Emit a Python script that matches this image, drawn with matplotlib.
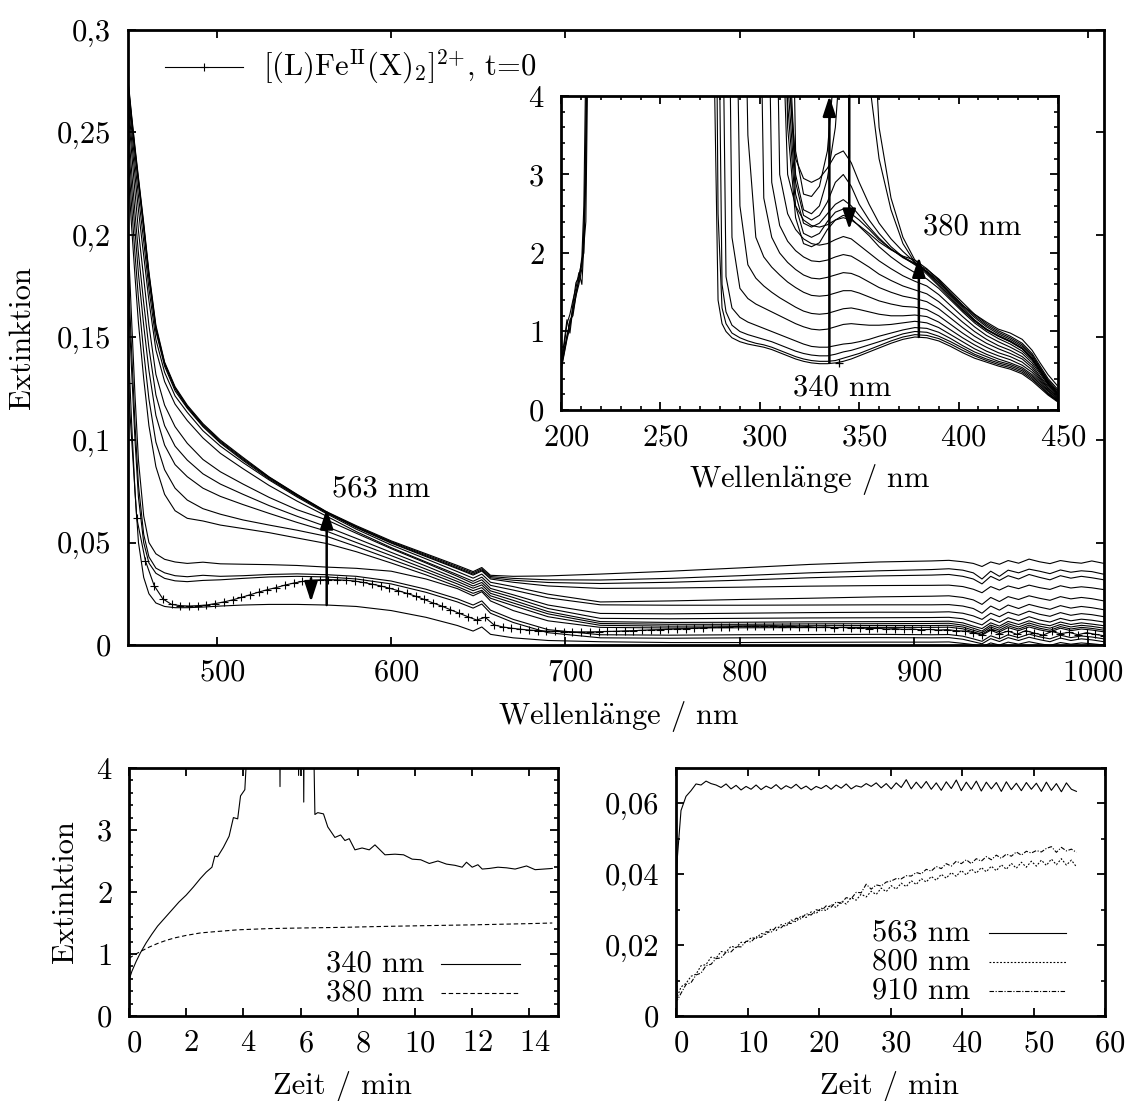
import numpy as np
import matplotlib
matplotlib.use("Agg")
import matplotlib.pyplot as plt
import matplotlib.transforms as mtransforms
from matplotlib.ticker import MultipleLocator, FuncFormatter

# ---------------------------------------------------------------- data
# visible / NIR spectra (Extinktion vs. Wellenlänge in nm)
vis_wavelength = [449, 451, 453, 455, 458, 461, 465, 470, 476, 483,
                  492, 502, 515, 530, 546, 563, 580, 600, 620, 638, 647, 652, 657,
                  670, 690, 720, 760, 800, 840, 880, 910,
                  920, 928, 934, 939, 944, 949, 954, 960, 966, 972, 978, 984, 990, 996, 1002, 1009]

vis_spectra = [
    [0.276, 0.259, 0.243, 0.228, 0.206, 0.182, 0.156, 0.138, 0.126, 0.117,
     0.108, 0.100, 0.0915, 0.082, 0.0735, 0.065, 0.0582, 0.0508, 0.0445, 0.0388, 0.0358, 0.0378, 0.034,
     0.0335, 0.0337, 0.0346, 0.036, 0.0376, 0.0393, 0.0405, 0.041,
     0.0413, 0.0406, 0.0398, 0.0383, 0.0405, 0.0394, 0.0412, 0.0399, 0.0419, 0.0406, 0.0397, 0.0412, 0.0404, 0.0399, 0.041, 0.0398],
    [0.275, 0.258, 0.242, 0.227, 0.205, 0.181, 0.155, 0.1375, 0.1255, 0.1165,
     0.1075, 0.0995, 0.091, 0.0818, 0.0733, 0.0648, 0.0578, 0.0504, 0.044, 0.0382, 0.0352, 0.0372, 0.0334,
     0.0325, 0.0318, 0.0317, 0.0325, 0.0338, 0.0352, 0.0362, 0.0368,
     0.0372, 0.0365, 0.0352, 0.0322, 0.036, 0.0335, 0.0365, 0.0352, 0.037, 0.036, 0.0348, 0.0366, 0.0355, 0.0362, 0.0358, 0.0345],
    [0.274, 0.257, 0.241, 0.226, 0.204, 0.180, 0.154, 0.137, 0.125, 0.116,
     0.107, 0.099, 0.0905, 0.0815, 0.073, 0.0646, 0.0575, 0.050, 0.0435, 0.0376, 0.0346, 0.0366, 0.0328,
     0.0316, 0.0305, 0.030, 0.0306, 0.0316, 0.0328, 0.0337, 0.0341,
     0.0344, 0.0335, 0.0322, 0.0298, 0.0335, 0.0315, 0.0338, 0.0322, 0.0344, 0.033, 0.0318, 0.0338, 0.0326, 0.0335, 0.0328, 0.0318],
    [0.273, 0.256, 0.240, 0.225, 0.203, 0.179, 0.153, 0.136, 0.124, 0.1155,
     0.1065, 0.0985, 0.090, 0.081, 0.0727, 0.0645, 0.0572, 0.0497, 0.0431, 0.0372, 0.0341, 0.0361, 0.0322,
     0.0306, 0.0288, 0.0276, 0.0278, 0.0282, 0.0287, 0.029, 0.0291,
     0.0292, 0.0285, 0.0272, 0.0255, 0.0285, 0.0268, 0.0288, 0.0275, 0.0292, 0.028, 0.0271, 0.0289, 0.0278, 0.0284, 0.0279, 0.027],
    [0.270, 0.252, 0.235, 0.219, 0.197, 0.174, 0.149, 0.133, 0.1215, 0.1135,
     0.1045, 0.097, 0.089, 0.0805, 0.0722, 0.064, 0.0565, 0.0488, 0.042, 0.0358, 0.0326, 0.0346, 0.0306,
     0.0285, 0.0248, 0.021, 0.0215, 0.0222, 0.0228, 0.0235, 0.0238,
     0.024, 0.0232, 0.022, 0.0198, 0.0232, 0.0212, 0.0236, 0.0222, 0.024, 0.0228, 0.0218, 0.0236, 0.0225, 0.0232, 0.0226, 0.0215],
    [0.266, 0.247, 0.229, 0.212, 0.190, 0.168, 0.144, 0.1285, 0.1175, 0.1095,
     0.101, 0.0935, 0.086, 0.0778, 0.0702, 0.0628, 0.0553, 0.0475, 0.0405, 0.0343, 0.0311, 0.0331, 0.0291,
     0.0268, 0.023, 0.0196, 0.0194, 0.0194, 0.0195, 0.0196, 0.0196,
     0.0197, 0.019, 0.0178, 0.0155, 0.019, 0.0170, 0.0195, 0.0178, 0.0198, 0.0185, 0.0174, 0.0192, 0.018, 0.0188, 0.0182, 0.0172],
    [0.262, 0.241, 0.221, 0.202, 0.179, 0.156, 0.132, 0.117, 0.1065, 0.0984,
     0.0905, 0.0845, 0.0785, 0.072, 0.066, 0.061, 0.0545, 0.047, 0.040, 0.0335, 0.030, 0.0318, 0.0276,
     0.0245, 0.0195, 0.0154, 0.0152, 0.0155, 0.0158, 0.016, 0.016,
     0.0162, 0.0155, 0.0142, 0.0125, 0.0155, 0.0138, 0.016, 0.0145, 0.0165, 0.015, 0.014, 0.0158, 0.0145, 0.0153, 0.0148, 0.0138],
    [0.255, 0.232, 0.211, 0.191, 0.167, 0.145, 0.122, 0.107, 0.097, 0.0902,
     0.0835, 0.0785, 0.0735, 0.068, 0.0628, 0.0577, 0.052, 0.0452, 0.0385, 0.0322, 0.0288, 0.0305, 0.0264,
     0.0232, 0.0178, 0.013, 0.0128, 0.013, 0.0132, 0.0133, 0.0134,
     0.0135, 0.0128, 0.0112, 0.0098, 0.0128, 0.011, 0.0133, 0.0118, 0.0138, 0.0122, 0.0112, 0.013, 0.0118, 0.0126, 0.0121, 0.0112],
    [0.248, 0.224, 0.202, 0.181, 0.156, 0.134, 0.112, 0.0975, 0.088, 0.0821,
     0.0765, 0.0725, 0.0685, 0.0642, 0.0598, 0.0555, 0.050, 0.0436, 0.037, 0.031, 0.0277, 0.0293, 0.0252,
     0.0218, 0.0163, 0.0114, 0.011, 0.0111, 0.0113, 0.0114, 0.0115,
     0.0116, 0.0108, 0.0092, 0.008, 0.0108, 0.0092, 0.0115, 0.010, 0.0118, 0.0103, 0.0094, 0.0112, 0.010, 0.0108, 0.0102, 0.0094],
    [0.240, 0.215, 0.191, 0.169, 0.143, 0.120, 0.099, 0.0855, 0.0765, 0.0707,
     0.0665, 0.0638, 0.061, 0.0585, 0.056, 0.053, 0.048, 0.0418, 0.0357, 0.0298, 0.0265, 0.028, 0.024,
     0.0205, 0.0152, 0.0105, 0.0101, 0.0101, 0.0103, 0.0104, 0.0105,
     0.0106, 0.0097, 0.0082, 0.0068, 0.0097, 0.0082, 0.0104, 0.0088, 0.0107, 0.0092, 0.0082, 0.010, 0.0088, 0.0096, 0.0091, 0.0082],
    [0.232, 0.205, 0.180, 0.157, 0.130, 0.107, 0.087, 0.0735, 0.0655, 0.0618,
     0.0605, 0.0585, 0.0568, 0.0548, 0.0522, 0.0495, 0.0455, 0.040, 0.0342, 0.0285, 0.0252, 0.0267, 0.0228,
     0.0192, 0.0138, 0.0096, 0.0092, 0.0093, 0.0094, 0.0095, 0.0095,
     0.0096, 0.0088, 0.0072, 0.006, 0.0088, 0.0072, 0.0094, 0.0078, 0.0097, 0.0082, 0.0072, 0.009, 0.0078, 0.0086, 0.0081, 0.0072],
    [0.200, 0.160, 0.122, 0.090, 0.063, 0.050, 0.0445, 0.0418, 0.0405, 0.0398,
     0.0404, 0.0396, 0.0394, 0.0392, 0.0388, 0.038, 0.0374, 0.036, 0.0322, 0.0275, 0.024, 0.026, 0.0215,
     0.0168, 0.0118, 0.0086, 0.0083, 0.0084, 0.0085, 0.0086, 0.0086,
     0.0087, 0.0079, 0.0064, 0.0052, 0.0079, 0.0064, 0.0085, 0.007, 0.0088, 0.0074, 0.0064, 0.0082, 0.007, 0.0078, 0.0073, 0.0064],
    [0.185, 0.145, 0.108, 0.078, 0.054, 0.043, 0.0375, 0.0352, 0.0338, 0.0333,
     0.034, 0.0335, 0.0338, 0.0344, 0.0347, 0.0343, 0.0335, 0.0312, 0.0272, 0.0225, 0.0195, 0.0215, 0.017,
     0.0125, 0.0075, 0.005, 0.0048, 0.005, 0.0051, 0.0052, 0.005,
     0.0051, 0.0043, 0.003, 0.0018, 0.0045, 0.003, 0.005, 0.0036, 0.0053, 0.004, 0.003, 0.0048, 0.0036, 0.0044, 0.0039, 0.003],
    [0.175, 0.135, 0.100, 0.072, 0.050, 0.040, 0.035, 0.0325, 0.0313, 0.0309,
     0.0315, 0.0318, 0.0325, 0.0332, 0.0335, 0.0332, 0.0322, 0.0298, 0.0257, 0.021, 0.018, 0.020, 0.0155,
     0.011, 0.006, 0.0035, 0.0033, 0.0035, 0.0036, 0.0036, 0.0035,
     0.0036, 0.0028, 0.0016, 0.0006, 0.0031, 0.0017, 0.0036, 0.0022, 0.0038, 0.0026, 0.0016, 0.0034, 0.0022, 0.003, 0.0025, 0.0016],
    [0.150, 0.110, 0.075, 0.050, 0.033, 0.025, 0.0205, 0.0188, 0.0182, 0.0182,
     0.0185, 0.019, 0.0195, 0.0198, 0.0198, 0.0195, 0.0188, 0.0168, 0.0135, 0.0095, 0.0068, 0.0088, 0.0052,
     0.0035, 0.0022, 0.0016, 0.0012, 0.0012, 0.0013, 0.0014, 0.0014,
     0.0015, 0.0008, 0.0002, -0.0008, 0.001, 0.0, 0.0014, 0.0004, 0.0016, 0.0006, -0.0002, 0.0012, 0.0004, 0.001, 0.0006, 0.0],
]

# starting complex, t = 0 (every 5 nm, drawn with + symbols)
vis_t0_wavelength = np.arange(449, 1010, 5)
vis_t0 = [0.128, 0.062, 0.041, 0.029, 0.0225, 0.0198, 0.0192, 0.019, 0.0192, 0.0195,
          0.0202, 0.021, 0.022, 0.0232, 0.0245, 0.0258, 0.027, 0.028, 0.0292, 0.0302,
          0.031, 0.0316, 0.0318, 0.0319, 0.0318, 0.0316, 0.0312, 0.0305, 0.0297, 0.0288,
          0.0277, 0.0265, 0.0252, 0.0238, 0.0222, 0.0205, 0.019, 0.0172, 0.0155, 0.0138,
          0.0122, 0.0135, 0.0098, 0.0088, 0.0082, 0.0077, 0.0073, 0.007, 0.0068, 0.0066,
          0.0065, 0.0064, 0.0064, 0.0064, 0.0065, 0.0066, 0.0067, 0.0069, 0.007, 0.0072,
          0.0074, 0.0075, 0.0077, 0.0079, 0.008, 0.0082, 0.0084, 0.0086, 0.0088, 0.0089,
          0.0091, 0.0092, 0.0093, 0.0092, 0.0094, 0.009, 0.0092, 0.0088, 0.009, 0.0086,
          0.0088, 0.0084, 0.0086, 0.0082, 0.0085, 0.008, 0.0082, 0.0078, 0.008, 0.0076,
          0.0078, 0.0074, 0.0076, 0.0073, 0.0075, 0.007, 0.0068, 0.006, 0.0048, 0.0072,
          0.0055, 0.0068, 0.0052, 0.007, 0.0058, 0.0048, 0.0066, 0.0055, 0.0062, 0.005,
          0.006, 0.0052, 0.0045]

# UV spectra, short-wavelength edge (200-220 nm)
uv_edge_wavelength = [200, 201.5, 203, 204.5, 206, 207.5, 209, 210.5, 211.5, 212.5, 213.5, 215, 220]
uv_edge_spectra = [
    [0.55, 0.75, 0.95, 1.10, 1.25, 1.45, 1.60, 1.80, 2.30, 3.5, 6, 9, 9],
    [0.60, 0.85, 1.15, 0.98, 1.30, 1.50, 1.65, 1.95, 2.6, 4.5, 9, 9, 9],
    [0.50, 0.70, 0.90, 1.05, 1.35, 1.62, 1.70, 1.90, 2.0, 3.0, 5.5, 9, 9],
    [0.58, 0.80, 1.10, 1.22, 1.40, 1.55, 1.75, 1.60, 2.1, 2.4, 4.5, 9, 9],
    [0.52, 0.72, 0.92, 1.15, 1.20, 1.45, 1.68, 1.85, 2.2, 3.2, 8, 9, 9],
]

# UV spectra, 274-450 nm
uv_wavelength = [274, 277, 279, 281, 283, 286, 290, 294, 298, 302,
                 306, 310, 314, 318, 322, 326, 330, 334, 338, 342,
                 346, 350, 355, 360, 366, 372, 378, 384, 390, 396,
                 402, 408, 414, 420, 426, 432, 437, 441, 445, 450]
uv_spectra = [
    [9, 4.5, 1.4, 1.1, 1.0, 0.92, 0.87, 0.84, 0.82, 0.80,
     0.77, 0.73, 0.69, 0.65, 0.62, 0.60, 0.59, 0.59, 0.60, 0.62,
     0.65, 0.69, 0.74, 0.79, 0.85, 0.90, 0.93, 0.92, 0.88, 0.81,
     0.73, 0.66, 0.61, 0.56, 0.52, 0.46, 0.37, 0.28, 0.19, 0.10],
    [9, 9, 2.5, 1.3, 1.1, 0.98, 0.92, 0.88, 0.85, 0.83,
     0.80, 0.76, 0.72, 0.68, 0.65, 0.63, 0.62, 0.62, 0.63, 0.66,
     0.69, 0.72, 0.77, 0.82, 0.88, 0.93, 0.96, 0.95, 0.91, 0.84,
     0.76, 0.69, 0.63, 0.58, 0.54, 0.48, 0.39, 0.30, 0.20, 0.11],
    [9, 9, 6, 1.6, 1.25, 1.08, 1.0, 0.96, 0.93, 0.90,
     0.87, 0.83, 0.79, 0.75, 0.72, 0.70, 0.69, 0.69, 0.71, 0.74,
     0.76, 0.79, 0.83, 0.87, 0.92, 0.97, 1.00, 0.99, 0.94, 0.87,
     0.79, 0.71, 0.65, 0.60, 0.56, 0.50, 0.41, 0.31, 0.21, 0.115],
    [9, 9, 9, 6, 1.7, 1.3, 1.18, 1.12, 1.08, 1.04,
     1.0, 0.96, 0.92, 0.88, 0.84, 0.81, 0.80, 0.80, 0.82, 0.84,
     0.85, 0.87, 0.90, 0.94, 0.98, 1.02, 1.05, 1.04, 0.99, 0.91,
     0.82, 0.74, 0.68, 0.62, 0.58, 0.52, 0.43, 0.33, 0.22, 0.12],
    [9, 9, 9, 9, 9, 2.2, 1.55, 1.42, 1.35, 1.30,
     1.25, 1.20, 1.15, 1.10, 1.06, 1.03, 1.02, 1.03, 1.06, 1.09,
     1.10, 1.09, 1.08, 1.08, 1.09, 1.11, 1.13, 1.11, 1.05, 0.96,
     0.87, 0.78, 0.71, 0.65, 0.60, 0.54, 0.45, 0.35, 0.24, 0.13],
    [9, 9, 9, 9, 9, 9, 2.6, 1.85, 1.68, 1.58,
     1.50, 1.43, 1.37, 1.31, 1.26, 1.23, 1.22, 1.23, 1.26, 1.29,
     1.30, 1.28, 1.25, 1.22, 1.20, 1.20, 1.21, 1.19, 1.12, 1.02,
     0.92, 0.83, 0.75, 0.69, 0.64, 0.57, 0.48, 0.37, 0.25, 0.14],
    [9, 9, 9, 9, 9, 9, 9, 3.5, 2.2, 1.95,
     1.82, 1.72, 1.63, 1.56, 1.50, 1.46, 1.45, 1.46, 1.49, 1.52,
     1.52, 1.49, 1.44, 1.39, 1.35, 1.32, 1.31, 1.28, 1.20, 1.09,
     0.98, 0.88, 0.80, 0.73, 0.68, 0.61, 0.51, 0.39, 0.27, 0.15],
    [9, 9, 9, 9, 9, 9, 9, 9, 9, 2.7,
     2.2, 2.0, 1.88, 1.79, 1.72, 1.68, 1.67, 1.69, 1.72, 1.75,
     1.74, 1.70, 1.63, 1.56, 1.50, 1.45, 1.42, 1.38, 1.29, 1.17,
     1.05, 0.94, 0.85, 0.78, 0.72, 0.65, 0.54, 0.41, 0.28, 0.16],
    [9, 9, 9, 9, 9, 9, 9, 9, 9, 9,
     2.9, 2.35, 2.15, 2.03, 1.95, 1.90, 1.89, 1.91, 1.95, 1.98,
     1.96, 1.90, 1.82, 1.73, 1.65, 1.58, 1.53, 1.48, 1.38, 1.25,
     1.12, 1.00, 0.90, 0.82, 0.76, 0.68, 0.57, 0.43, 0.30, 0.17],
    [9, 9, 9, 9, 9, 9, 9, 9, 9, 9,
     9, 3.0, 2.5, 2.3, 2.18, 2.12, 2.10, 2.12, 2.17, 2.21,
     2.18, 2.10, 2.00, 1.90, 1.80, 1.71, 1.64, 1.58, 1.47, 1.33,
     1.19, 1.06, 0.95, 0.87, 0.80, 0.72, 0.60, 0.46, 0.32, 0.18],
    [9, 9, 9, 9, 9, 9, 9, 9, 9, 9,
     9, 6, 3.0, 2.6, 2.42, 2.35, 2.33, 2.36, 2.42, 2.48,
     2.44, 2.34, 2.22, 2.08, 1.95, 1.84, 1.75, 1.67, 1.55, 1.40,
     1.25, 1.11, 1.00, 0.91, 0.84, 0.75, 0.63, 0.48, 0.33, 0.19],
    [9, 9, 9, 9, 9, 9, 9, 9, 9, 9,
     9, 9, 4.4, 3.2, 2.95, 2.9, 2.95, 3.08, 3.25, 3.3,
     3.15, 2.9, 2.62, 2.38, 2.18, 2.02, 1.88, 1.76, 1.62, 1.46,
     1.30, 1.15, 1.03, 0.94, 0.87, 0.78, 0.65, 0.50, 0.34, 0.20],
    [9, 9, 9, 9, 9, 9, 9, 9, 9, 9,
     9, 9, 9, 3.3, 2.75, 2.72, 2.85, 3.3, 4.5, 9,
     9, 9, 6, 3.6, 2.7, 2.2, 1.91, 1.75, 1.60, 1.44,
     1.28, 1.14, 1.03, 0.95, 0.88, 0.79, 0.66, 0.51, 0.35, 0.21],
    [9, 9, 9, 9, 9, 9, 9, 9, 9, 9,
     9, 9, 5, 3.0, 2.55, 2.5, 2.6, 2.95, 3.6, 5,
     9, 6, 4.2, 3.2, 2.55, 2.12, 1.88, 1.73, 1.58, 1.42,
     1.27, 1.13, 1.02, 0.94, 0.87, 0.78, 0.65, 0.50, 0.35, 0.21],
    [9, 9, 9, 9, 9, 9, 9, 9, 9, 9,
     9, 9, 4.6, 2.9, 2.48, 2.42, 2.48, 2.65, 2.9, 3.0,
     2.85, 2.62, 2.42, 2.25, 2.08, 1.95, 1.85, 1.76, 1.63, 1.48,
     1.32, 1.18, 1.06, 0.97, 0.90, 0.81, 0.68, 0.53, 0.37, 0.22],
    [9, 9, 9, 9, 9, 9, 9, 9, 9, 9,
     9, 9, 4.2, 2.75, 2.38, 2.33, 2.38, 2.5, 2.62, 2.68,
     2.6, 2.48, 2.33, 2.19, 2.05, 1.94, 1.86, 1.77, 1.65, 1.50,
     1.34, 1.20, 1.08, 0.99, 0.92, 0.83, 0.70, 0.54, 0.38, 0.24],
    [9, 9, 9, 9, 9, 9, 9, 9, 9, 9,
     9, 9, 3.9, 2.6, 2.25, 2.2, 2.25, 2.4, 2.52, 2.56,
     2.5, 2.42, 2.3, 2.17, 2.05, 1.95, 1.87, 1.79, 1.67, 1.52,
     1.37, 1.22, 1.10, 1.01, 0.94, 0.85, 0.72, 0.56, 0.40, 0.26],
    [9, 9, 9, 9, 9, 9, 9, 9, 9, 9,
     9, 9, 3.6, 2.45, 2.12, 2.08, 2.13, 2.3, 2.42, 2.45,
     2.42, 2.35, 2.25, 2.14, 2.04, 1.96, 1.91, 1.80, 1.66, 1.47,
     1.33, 1.22, 1.12, 1.03, 0.98, 0.90, 0.76, 0.60, 0.45, 0.30],
]
uv_t0_mark_nm = [340]
uv_t0_mark = [0.595]

# kinetics at 340 / 380 nm
t_340 = [0, 0.1, 0.25, 0.4, 0.6, 0.8, 1.0, 1.25, 1.5, 1.75,
         2.0, 2.25, 2.5, 2.7, 2.9, 3.0, 3.1, 3.3, 3.5, 3.65,
         3.8, 3.9, 4.05, 4.15, 4.3, 5.25, 5.28, 5.31, 5.9, 5.93,
         5.96, 6.08, 6.11, 6.14, 6.4, 6.5, 6.6, 6.8, 6.95, 7.2,
         7.4, 7.55, 7.7, 7.9, 8.15, 8.4, 8.6, 8.95, 9.3, 9.6,
         9.9, 10.2, 10.5, 10.8, 11.1, 11.4, 11.65, 11.8, 12.0, 12.2,
         12.35, 12.6, 12.9, 13.2, 13.5, 13.9, 14.2, 14.5, 14.8]
ext_340 = [0.58, 0.72, 0.88, 1.02, 1.18, 1.32, 1.45, 1.58, 1.71, 1.84,
           1.95, 2.08, 2.22, 2.32, 2.40, 2.58, 2.57, 2.72, 2.90, 3.2,
           3.18, 3.55, 3.65, 4.5, 6, 6, 3.7, 6, 6, 3.88,
           6, 6, 3.45, 6, 6, 3.25, 3.28, 3.26, 3.05, 2.88,
           2.92, 2.83, 2.86, 2.68, 2.71, 2.68, 2.76, 2.6, 2.61, 2.6,
           2.53, 2.52, 2.46, 2.5, 2.45, 2.43, 2.40, 2.48, 2.40, 2.44,
           2.37, 2.38, 2.40, 2.39, 2.37, 2.42, 2.36, 2.37, 2.38]
t_380 = [0, 0.2, 0.4, 0.7, 1.0, 1.3, 1.6, 2.0, 2.5, 3.0, 3.8,
         4.9, 6.1, 7.5, 8.4, 9.5, 10.7, 12.0, 13.0, 14.0, 14.8]
ext_380 = [0.93, 0.99, 1.04, 1.11, 1.17, 1.22, 1.26, 1.30, 1.34, 1.36, 1.39,
           1.41, 1.42, 1.43, 1.44, 1.45, 1.46, 1.47, 1.48, 1.49, 1.50]

# kinetics at 563 / 800 / 910 nm (sampled every 0.7 min)
t_kin = np.concatenate([[0.0, 0.2], np.arange(1, 81) * 0.7])
ext_563 = [0.035, 0.045, 0.058, 0.062, 0.0636, 0.0655, 0.0652, 0.0663, 0.0656, 0.0652,
           0.0645, 0.0655, 0.0641, 0.0651, 0.0638, 0.0648, 0.0640, 0.0652, 0.0639, 0.0649,
           0.0642, 0.0653, 0.0640, 0.0650, 0.0643, 0.0654, 0.0641, 0.0649, 0.0638, 0.0648,
           0.0642, 0.0651, 0.0640, 0.0652, 0.0643, 0.0655, 0.0641, 0.0650, 0.0646, 0.0656,
           0.0648, 0.0658, 0.0644, 0.0656, 0.0641, 0.0658, 0.0645, 0.0667, 0.0641, 0.0660,
           0.0643, 0.0662, 0.0640, 0.0658, 0.0637, 0.0661, 0.0642, 0.0666, 0.0636, 0.0660,
           0.0640, 0.0663, 0.0635, 0.0660, 0.0641, 0.0659, 0.0634, 0.0661, 0.0639, 0.0657,
           0.0636, 0.0659, 0.0640, 0.0657, 0.0634, 0.0660, 0.0637, 0.0656, 0.0633, 0.0658,
           0.0640, 0.0634]
ext_800 = [0.0155, 0.0055, 0.0082, 0.0092, 0.0112, 0.0118, 0.0142, 0.0145, 0.0166, 0.0163,
           0.0182, 0.0180, 0.0197, 0.0193, 0.0208, 0.0207, 0.0221, 0.0219, 0.0233, 0.0230,
           0.0246, 0.0241, 0.0258, 0.0253, 0.0271, 0.0266, 0.0283, 0.0278, 0.0294, 0.0289,
           0.0305, 0.0297, 0.0315, 0.0306, 0.0324, 0.0316, 0.0334, 0.0327, 0.0344, 0.0336,
           0.0352, 0.0343, 0.0361, 0.0351, 0.0368, 0.0358, 0.0375, 0.0365, 0.0382, 0.0371,
           0.0388, 0.0378, 0.0394, 0.0383, 0.0400, 0.0389, 0.0405, 0.0394, 0.0411, 0.0398,
           0.0415, 0.0403, 0.0419, 0.0407, 0.0423, 0.0410, 0.0427, 0.0414, 0.0431, 0.0417,
           0.0434, 0.0420, 0.0437, 0.0423, 0.0440, 0.0425, 0.0443, 0.0427, 0.0444, 0.0426,
           0.0440, 0.0421]
ext_910 = [0.0130, 0.0045, 0.0064, 0.0089, 0.0094, 0.0116, 0.0121, 0.0142, 0.0146, 0.0162,
           0.0164, 0.0180, 0.0181, 0.0196, 0.0195, 0.0211, 0.0209, 0.0224, 0.0222, 0.0238,
           0.0236, 0.0251, 0.0249, 0.0263, 0.0261, 0.0276, 0.0274, 0.0289, 0.0285, 0.0300,
           0.0296, 0.0311, 0.0307, 0.0322, 0.0318, 0.0334, 0.0331, 0.0349, 0.0348, 0.0372,
           0.0358, 0.0370, 0.0367, 0.0378, 0.0381, 0.0388, 0.0387, 0.0396, 0.0395, 0.0405,
           0.0401, 0.0414, 0.0409, 0.0422, 0.0416, 0.0430, 0.0423, 0.0437, 0.0430, 0.0441,
           0.0430, 0.0444, 0.0437, 0.0450, 0.0441, 0.0454, 0.0445, 0.0457, 0.0451, 0.0463,
           0.0454, 0.0465, 0.0460, 0.0467, 0.0463, 0.0473, 0.0478, 0.0462, 0.0476, 0.0466,
           0.0471, 0.0462]

# ---------------------------------------------------------------- style
plt.rcParams.update({
    "font.family": "cmr10",
    "mathtext.fontset": "cm",
    "axes.formatter.use_mathtext": True,
    "font.size": 22,
    "axes.linewidth": 2.0,
    "xtick.direction": "in", "ytick.direction": "in",
    "xtick.top": True, "ytick.right": True,
    "xtick.major.size": 6, "ytick.major.size": 6,
    "xtick.minor.size": 3, "ytick.minor.size": 3,
    "xtick.major.width": 1.3, "ytick.major.width": 1.3,
    "xtick.minor.width": 1.2, "ytick.minor.width": 1.2,
    "xtick.major.pad": 10, "ytick.major.pad": 12,
})
LW = 0.8
W, H = 1128, 1101
fig = plt.figure(figsize=(W / 100, H / 100), dpi=100)


def px_axes(left, top, right, bottom):
    return fig.add_axes([left / W, 1 - bottom / H, (right - left) / W, (bottom - top) / H])


def comma(v, pos):
    s = f"{v:.2f}".rstrip("0").rstrip(".")
    return s.replace(".", ",")


WL_LABEL = r"Wellenl$\ddot{\mathrm{a}}$nge / nm"
arrow_up = dict(arrowstyle="-|>,head_length=0.55,head_width=0.18", lw=1.8, color="k",
                shrinkA=0, shrinkB=0)

# ---------------------------------------------------------------- main panel
ax = px_axes(128, 30, 1104, 645)
for row in vis_spectra:
    ax.plot(vis_wavelength, row, color="k", lw=LW)
ax.plot(vis_t0_wavelength, vis_t0, color="k", lw=LW, marker="+", ms=6, mew=0.8)
ax.set_xlim(449, 1009)
ax.set_ylim(0, 0.3)
ax.xaxis.set_major_locator(MultipleLocator(100))
ax.yaxis.set_major_locator(MultipleLocator(0.05))
ax.yaxis.set_major_formatter(FuncFormatter(comma))
ax.set_xlabel(WL_LABEL)
ax.set_ylabel("Extinktion")
ax.xaxis.set_label_coords(0.503, -0.088)
ax.yaxis.set_label_coords(-0.094, 0.5)

ax.annotate("", xy=(563, 0.0665), xytext=(563, 0.0195), arrowprops=arrow_up)
ax.annotate("", xy=(554, 0.021), xytext=(554, 0.0325), arrowprops=arrow_up)
ax.text(566, 0.0761, "563 nm", ha="left", va="center")

# legend key of the t = 0 spectrum
ax.plot([0.038, 0.078, 0.118], [0.94, 0.94, 0.94], transform=ax.transAxes, color="k",
        lw=LW, marker="+", ms=6, mew=0.8, markevery=[1], clip_on=False)
ax.text(0.138, 0.94, r"$[(\mathrm{L})\mathrm{Fe}^{\mathrm{II}}(\mathrm{X})_2]^{2{+}}$, t=0",
        transform=ax.transAxes, ha="left", va="center")

# ---------------------------------------------------------------- inset (UV)
ins = px_axes(561, 96, 1058, 410)
ins.set_facecolor("white")
for row in uv_edge_spectra:
    ins.plot(uv_edge_wavelength, row, color="k", lw=LW)
for row in uv_spectra:
    ins.plot(uv_wavelength, row, color="k", lw=LW)
ins.plot(uv_t0_mark_nm, uv_t0_mark, ls="none", marker="+", ms=6, mew=0.9, color="k")
ins.set_xlim(200, 450)
ins.set_ylim(0, 4)
ins.xaxis.set_major_locator(MultipleLocator(50))
ins.xaxis.set_minor_locator(MultipleLocator(10))
ins.yaxis.set_major_locator(MultipleLocator(1))
ins.yaxis.set_minor_locator(MultipleLocator(0.2))
ins.set_xlabel(WL_LABEL)
ins.xaxis.set_label_coords(0.5, -0.165)
ins.annotate("", xy=(335, 4.0), xytext=(335, 0.6), arrowprops=arrow_up)
ins.annotate("", xy=(345, 2.3), xytext=(345, 4.0), arrowprops=arrow_up)
ins.annotate("", xy=(380, 1.95), xytext=(380, 0.93), arrowprops=arrow_up)
ins.text(382, 2.335, "380 nm", ha="left", va="center")
ins.text(316.7, 0.28, "340 nm", ha="left", va="center")

# ---------------------------------------------------------------- kinetics 340 / 380
k1 = px_axes(129, 768, 558, 1016)
k1.plot(t_340, ext_340, color="k", lw=LW)
k1.plot(t_380, ext_380, color="k", lw=LW, dashes=(4, 2.5))
k1.set_xlim(0, 15)
k1.set_ylim(0, 4)
k1.xaxis.set_major_locator(MultipleLocator(2))
k1.yaxis.set_major_locator(MultipleLocator(1))
k1.yaxis.set_minor_locator(MultipleLocator(0.2))
k1.set_xlabel("Zeit / min")
k1.set_ylabel("Extinktion")
k1.xaxis.set_label_coords(0.497, -0.22)
k1.yaxis.set_label_coords(-0.117, 0.5)
for i, (lab, dash) in enumerate([("340 nm", None), ("380 nm", (4, 2.5))]):
    yk = 0.21 - i * 0.117
    k1.text(0.689, yk, lab, transform=k1.transAxes, ha="right", va="center")
    ln, = k1.plot([0.727, 0.911], [yk, yk], transform=k1.transAxes, color="k", lw=LW)
    if dash:
        ln.set_dashes(dash)

# ---------------------------------------------------------------- kinetics 563 / 800 / 910
k2 = px_axes(676, 768, 1105, 1016)
k2.plot(t_kin, ext_563, color="k", lw=LW)
k2.plot(t_kin, ext_800, color="k", lw=LW, dashes=(1.6, 1.6))
k2.plot(t_kin, ext_910, color="k", lw=LW, dashes=(4, 1.5, 1, 1.5))
k2.set_xlim(0, 60)
k2.set_ylim(0, 0.07)
k2.xaxis.set_major_locator(MultipleLocator(10))
k2.yaxis.set_major_locator(MultipleLocator(0.02))
k2.yaxis.set_minor_locator(MultipleLocator(0.01))
k2.yaxis.set_major_formatter(FuncFormatter(comma))
k2.set_xlabel("Zeit / min")
k2.xaxis.set_label_coords(0.497, -0.22)
for i, (lab, dash) in enumerate([("563 nm", None), ("800 nm", (1.6, 1.6)),
                                 ("910 nm", (4, 1.5, 1, 1.5))]):
    yk = 0.335 - i * 0.117
    k2.text(0.686, yk, lab, transform=k2.transAxes, ha="right", va="center")
    ln, = k2.plot([0.730, 0.91], [yk, yk], transform=k2.transAxes, color="k", lw=LW)
    if dash:
        ln.set_dashes(dash)

# tick labels of the x axes sit a few pixels right of their ticks
fig.canvas.draw()
shift = mtransforms.ScaledTranslation(0.05, 0, fig.dpi_scale_trans)
for a in (ax, ins, k1, k2):
    for tick in a.xaxis.get_major_ticks():
        tick.label1.set_transform(tick.label1.get_transform() + shift)

fig.savefig("out.png", dpi=100)
